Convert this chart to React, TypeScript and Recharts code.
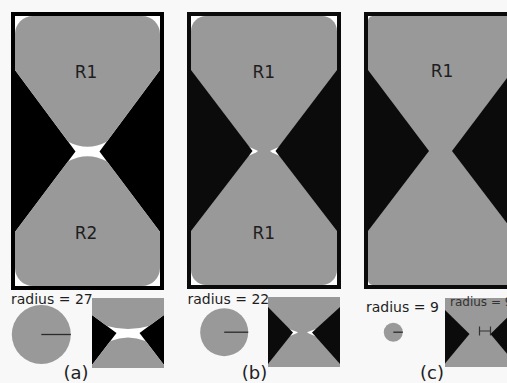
import React from 'react';
import { ComposedChart, XAxis, YAxis, Scatter } from 'recharts';

type Pt = { x: number; y: number; r?: number; q?: boolean };
type Lbl = { x: number; y: number; t: string };
type Disk = { x: number; y: number; r: number };

const W = 507;
const H = 383;

// stated opening radii and panel letters
const radiusValues = [27, 22, 9];
const panelLetters = ['(a)', '(b)', '(c)'];

// ---------- panel (a) ----------
const frameA: Pt[] = [{ x: 11, y: 12 }, { x: 164, y: 12 }, { x: 164, y: 290 }, { x: 11, y: 290 }];
const innerA: Pt[] = [{ x: 15, y: 16 }, { x: 160, y: 16 }, { x: 160, y: 286 }, { x: 15, y: 286 }];
const blackLeftA: Pt[] = [{ x: 15, y: 70 }, { x: 75.5, y: 151.5 }, { x: 15, y: 232 }];
const blackRightA: Pt[] = [{ x: 160, y: 70 }, { x: 99.5, y: 151.5 }, { x: 160, y: 232 }];
const grayTopA: Pt[] = [
  { x: 15, y: 70 }, { x: 15, y: 16, r: 18 }, { x: 160, y: 16, r: 18 }, { x: 160, y: 70 },
  { x: 106.7, y: 141.7 }, { x: 87.5, y: 152, q: true }, { x: 68.3, y: 141.7 },
];
const grayBotA: Pt[] = [
  { x: 15, y: 232 }, { x: 15, y: 286, r: 18 }, { x: 160, y: 286, r: 18 }, { x: 160, y: 232 },
  { x: 106.9, y: 161.3 }, { x: 87.5, y: 151, q: true }, { x: 68.1, y: 161.3 },
];

// ---------- panel (b) ----------
const frameB: Pt[] = [{ x: 187, y: 12 }, { x: 341, y: 12 }, { x: 341, y: 289 }, { x: 187, y: 289 }];
const innerB: Pt[] = [{ x: 191, y: 16 }, { x: 337, y: 16 }, { x: 337, y: 285 }, { x: 191, y: 285 }];
const grayB: Pt[] = [{ x: 191, y: 16, r: 15 }, { x: 337, y: 16, r: 15 }, { x: 337, y: 285, r: 15 }, { x: 191, y: 285, r: 15 }];
const sliverLeftB: Pt[] = [{ x: 247, y: 146 }, { x: 256, y: 150 }, { x: 258, y: 151 }, { x: 256, y: 152.5 }, { x: 247, y: 156.5 }];
const sliverRightB: Pt[] = [{ x: 281, y: 146 }, { x: 272, y: 150 }, { x: 270, y: 151 }, { x: 272, y: 152.5 }, { x: 281, y: 156.5 }];
const blackLeftB: Pt[] = [{ x: 191, y: 70 }, { x: 252.5, y: 151 }, { x: 191, y: 231 }];
const blackRightB: Pt[] = [{ x: 337, y: 70 }, { x: 275.5, y: 151 }, { x: 337, y: 231 }];

// ---------- panel (c) ----------
const frameC: Pt[] = [{ x: 364, y: 12 }, { x: 517, y: 12 }, { x: 517, y: 289 }, { x: 364, y: 289 }];
const innerC: Pt[] = [{ x: 368, y: 16 }, { x: 513, y: 16 }, { x: 513, y: 285 }, { x: 368, y: 285 }];
const grayC: Pt[] = [{ x: 368, y: 16, r: 5 }, { x: 513, y: 16, r: 5 }, { x: 513, y: 285, r: 5 }, { x: 368, y: 285, r: 5 }];
const blackLeftC: Pt[] = [{ x: 368, y: 70 }, { x: 429, y: 151 }, { x: 368, y: 231 }];
const blackRightC: Pt[] = [{ x: 513, y: 70 }, { x: 452, y: 151 }, { x: 513, y: 231 }];

// ---------- close-ups ----------
const zoomA: Pt[] = [{ x: 92, y: 298 }, { x: 164, y: 298 }, { x: 164, y: 368 }, { x: 92, y: 368 }];
const zoomBlackLeftA: Pt[] = [{ x: 92, y: 315 }, { x: 116.5, y: 333 }, { x: 92, y: 365 }];
const zoomBlackRightA: Pt[] = [{ x: 164, y: 315 }, { x: 139.5, y: 333 }, { x: 164, y: 365 }];
const zoomGrayTopA: Pt[] = [
  { x: 92, y: 298 }, { x: 164, y: 298 }, { x: 164, y: 315 }, { x: 149, y: 326 },
  { x: 128, y: 332, q: true }, { x: 107, y: 326 }, { x: 92, y: 315 },
];
const zoomGrayBotA: Pt[] = [
  { x: 92, y: 365 }, { x: 110.4, y: 341 }, { x: 128, y: 334, q: true }, { x: 145.6, y: 341 },
  { x: 164, y: 365 }, { x: 164, y: 368 }, { x: 92, y: 368 },
];

const zoomB: Pt[] = [{ x: 268, y: 297 }, { x: 340, y: 297 }, { x: 340, y: 367 }, { x: 268, y: 367 }];
const zoomSliverLeftB: Pt[] = [{ x: 289, y: 329 }, { x: 296, y: 331.5 }, { x: 298, y: 332.5 }, { x: 296, y: 333.5 }, { x: 289, y: 336.5 }];
const zoomSliverRightB: Pt[] = [{ x: 316, y: 329 }, { x: 309, y: 331.5 }, { x: 307, y: 332.5 }, { x: 309, y: 333.5 }, { x: 316, y: 336.5 }];
const zoomBlackLeftB: Pt[] = [{ x: 268, y: 307 }, { x: 293, y: 332.5 }, { x: 268, y: 364 }];
const zoomBlackRightB: Pt[] = [{ x: 340, y: 307 }, { x: 312, y: 332.5 }, { x: 340, y: 364 }];

const zoomC: Pt[] = [{ x: 445, y: 298 }, { x: 515, y: 298 }, { x: 515, y: 367 }, { x: 445, y: 367 }];
const zoomBlackLeftC: Pt[] = [{ x: 445, y: 310 }, { x: 469.5, y: 334 }, { x: 445, y: 363.5 }];
const zoomBlackRightC: Pt[] = [{ x: 515, y: 310 }, { x: 490.5, y: 334 }, { x: 515, y: 363.5 }];
const zoomMarkerC: Pt[] = [{ x: 479.5, y: 331 }, { x: 490.5, y: 331 }];

// ---------- texts & disks ----------
const regionLabels: Lbl[] = [
  { x: 86, y: 77.5, t: 'R1' }, { x: 86, y: 238.5, t: 'R2' },
  { x: 263.7, y: 77.5, t: 'R1' }, { x: 263.7, y: 239.3, t: 'R1' },
  { x: 442, y: 77.3, t: 'R1' },
];
const radiusLabelPos = [{ x: 11, y: 304 }, { x: 187.5, y: 304 }, { x: 366, y: 312 }];
const innerRadiusLabel: Lbl[] = [{ x: 450, y: 306, t: `radius = ${radiusValues[2]}` }];
const letterPos = [{ x: 76, y: 379 }, { x: 254.5, y: 379 }, { x: 432, y: 379 }];
const disks: Disk[] = [{ x: 41.3, y: 334.5, r: 29.5 }, { x: 224.2, y: 332.2, r: 24 }, { x: 393.3, y: 332.2, r: 9.5 }];

const radiusLabels: Lbl[] = radiusLabelPos.map((p, i) => ({ ...p, t: `radius = ${radiusValues[i]}` }));
const letterLabels: Lbl[] = letterPos.map((p, i) => ({ ...p, t: panelLetters[i] }));

const GRAY = '#999999';
const BLACK = '#000000';
const DARK = '#0b0b0b';
const WHITE = '#ffffff';
const INK = '#1e1e1e';
const FONT = '"DejaVu Sans", Verdana, sans-serif';

function buildPath(px: { x: number; y: number }[], meta: Pt[]): string {
  const n = px.length;
  let d = '';
  const K = 0.5523;
  for (let i = 0; i < n; i++) {
    const p = px[i];
    const m = meta[i] || ({} as Pt);
    const cmd = i === 0 ? 'M' : 'L';
    if (m.q && i + 1 < n) {
      const nx = px[i + 1];
      if (i === 0) d += `M ${p.x} ${p.y}`;
      d += ` Q ${p.x} ${p.y} ${nx.x} ${nx.y}`;
      i++;
      continue;
    }
    if (m.r) {
      const pr = px[(i - 1 + n) % n];
      const nx = px[(i + 1) % n];
      const l1 = Math.hypot(pr.x - p.x, pr.y - p.y) || 1;
      const l2 = Math.hypot(nx.x - p.x, nx.y - p.y) || 1;
      const t1 = { x: p.x + ((pr.x - p.x) / l1) * m.r, y: p.y + ((pr.y - p.y) / l1) * m.r };
      const t2 = { x: p.x + ((nx.x - p.x) / l2) * m.r, y: p.y + ((nx.y - p.y) / l2) * m.r };
      const c1 = { x: t1.x + (p.x - t1.x) * K, y: t1.y + (p.y - t1.y) * K };
      const c2 = { x: t2.x + (p.x - t2.x) * K, y: t2.y + (p.y - t2.y) * K };
      d += ` ${cmd} ${t1.x} ${t1.y} C ${c1.x} ${c1.y} ${c2.x} ${c2.y} ${t2.x} ${t2.y}`;
    } else {
      d += ` ${cmd} ${p.x} ${p.y}`;
    }
  }
  return d + ' Z';
}

const hidden = () => <g />;

function poly(key: string, pts: Pt[], fill: string) {
  return (
    <Scatter
      key={key}
      data={pts}
      isAnimationActive={false}
      shape={hidden}
      line={(lp: any) => <path d={buildPath(lp.points, pts)} fill={fill} stroke="none" />}
    />
  );
}

function labels(key: string, data: Lbl[], size: number, anchor: 'start' | 'middle', color: string) {
  return (
    <Scatter
      key={key}
      data={data}
      isAnimationActive={false}
      shape={(p: any) => (
        <text x={p.cx} y={p.cy} fontSize={size} textAnchor={anchor} fill={color} fontFamily={FONT}>
          {p.payload.t}
        </text>
      )}
    />
  );
}

export default function App() {
  return (
    <div style={{ position: 'absolute', left: 0, top: 0, width: W, height: H, background: '#f8f8f8', overflow: 'hidden' }}>
      <ComposedChart width={W} height={H} margin={{ top: 0, right: 0, bottom: 0, left: 0 }}>
        <XAxis type="number" dataKey="x" domain={[0, W]} allowDataOverflow hide />
        <YAxis type="number" dataKey="y" domain={[0, H]} allowDataOverflow reversed hide />

        {poly('fa', frameA, BLACK)}
        {poly('ia', innerA, WHITE)}
        {poly('bla', blackLeftA, BLACK)}
        {poly('bra', blackRightA, BLACK)}
        {poly('gta', grayTopA, GRAY)}
        {poly('gba', grayBotA, GRAY)}

        {poly('fb', frameB, DARK)}
        {poly('ib', innerB, WHITE)}
        {poly('gb', grayB, GRAY)}
        {poly('slb', sliverLeftB, WHITE)}
        {poly('srb', sliverRightB, WHITE)}
        {poly('blb', blackLeftB, DARK)}
        {poly('brb', blackRightB, DARK)}

        {poly('fc', frameC, DARK)}
        {poly('ic', innerC, WHITE)}
        {poly('gc', grayC, GRAY)}
        {poly('blc', blackLeftC, DARK)}
        {poly('brc', blackRightC, DARK)}

        {poly('za', zoomA, WHITE)}
        {poly('zbla', zoomBlackLeftA, BLACK)}
        {poly('zbra', zoomBlackRightA, BLACK)}
        {poly('zgta', zoomGrayTopA, GRAY)}
        {poly('zgba', zoomGrayBotA, GRAY)}

        {poly('zb', zoomB, GRAY)}
        {poly('zslb', zoomSliverLeftB, WHITE)}
        {poly('zsrb', zoomSliverRightB, WHITE)}
        {poly('zblb', zoomBlackLeftB, DARK)}
        {poly('zbrb', zoomBlackRightB, DARK)}

        {poly('zc', zoomC, GRAY)}
        {poly('zblc', zoomBlackLeftC, DARK)}
        {poly('zbrc', zoomBlackRightC, DARK)}
        <Scatter
          data={zoomMarkerC}
          isAnimationActive={false}
          shape={hidden}
          line={(lp: any) => {
            const [a, b] = lp.points;
            return (
              <path
                d={`M ${a.x} ${a.y} L ${b.x} ${b.y} M ${a.x} ${a.y - 4.5} L ${a.x} ${a.y + 4.5} M ${b.x} ${b.y - 4.5} L ${b.x} ${b.y + 4.5}`}
                stroke="#333"
                strokeWidth={1.2}
                fill="none"
              />
            );
          }}
        />

        <Scatter
          data={disks}
          isAnimationActive={false}
          shape={(p: any) => (
            <g>
              <circle cx={p.cx} cy={p.cy} r={p.payload.r} fill={GRAY} />
              <line x1={p.cx} y1={p.cy} x2={p.cx + p.payload.r} y2={p.cy} stroke="#2a2a2a" strokeWidth={1.3} />
            </g>
          )}
        />

        {labels('rl', regionLabels, 17, 'middle', INK)}
        {labels('rad', radiusLabels, 14, 'start', INK)}
        {labels('irad', innerRadiusLabel, 12, 'start', '#333')}
        {labels('let', letterLabels, 18, 'middle', INK)}
      </ComposedChart>
    </div>
  );
}
